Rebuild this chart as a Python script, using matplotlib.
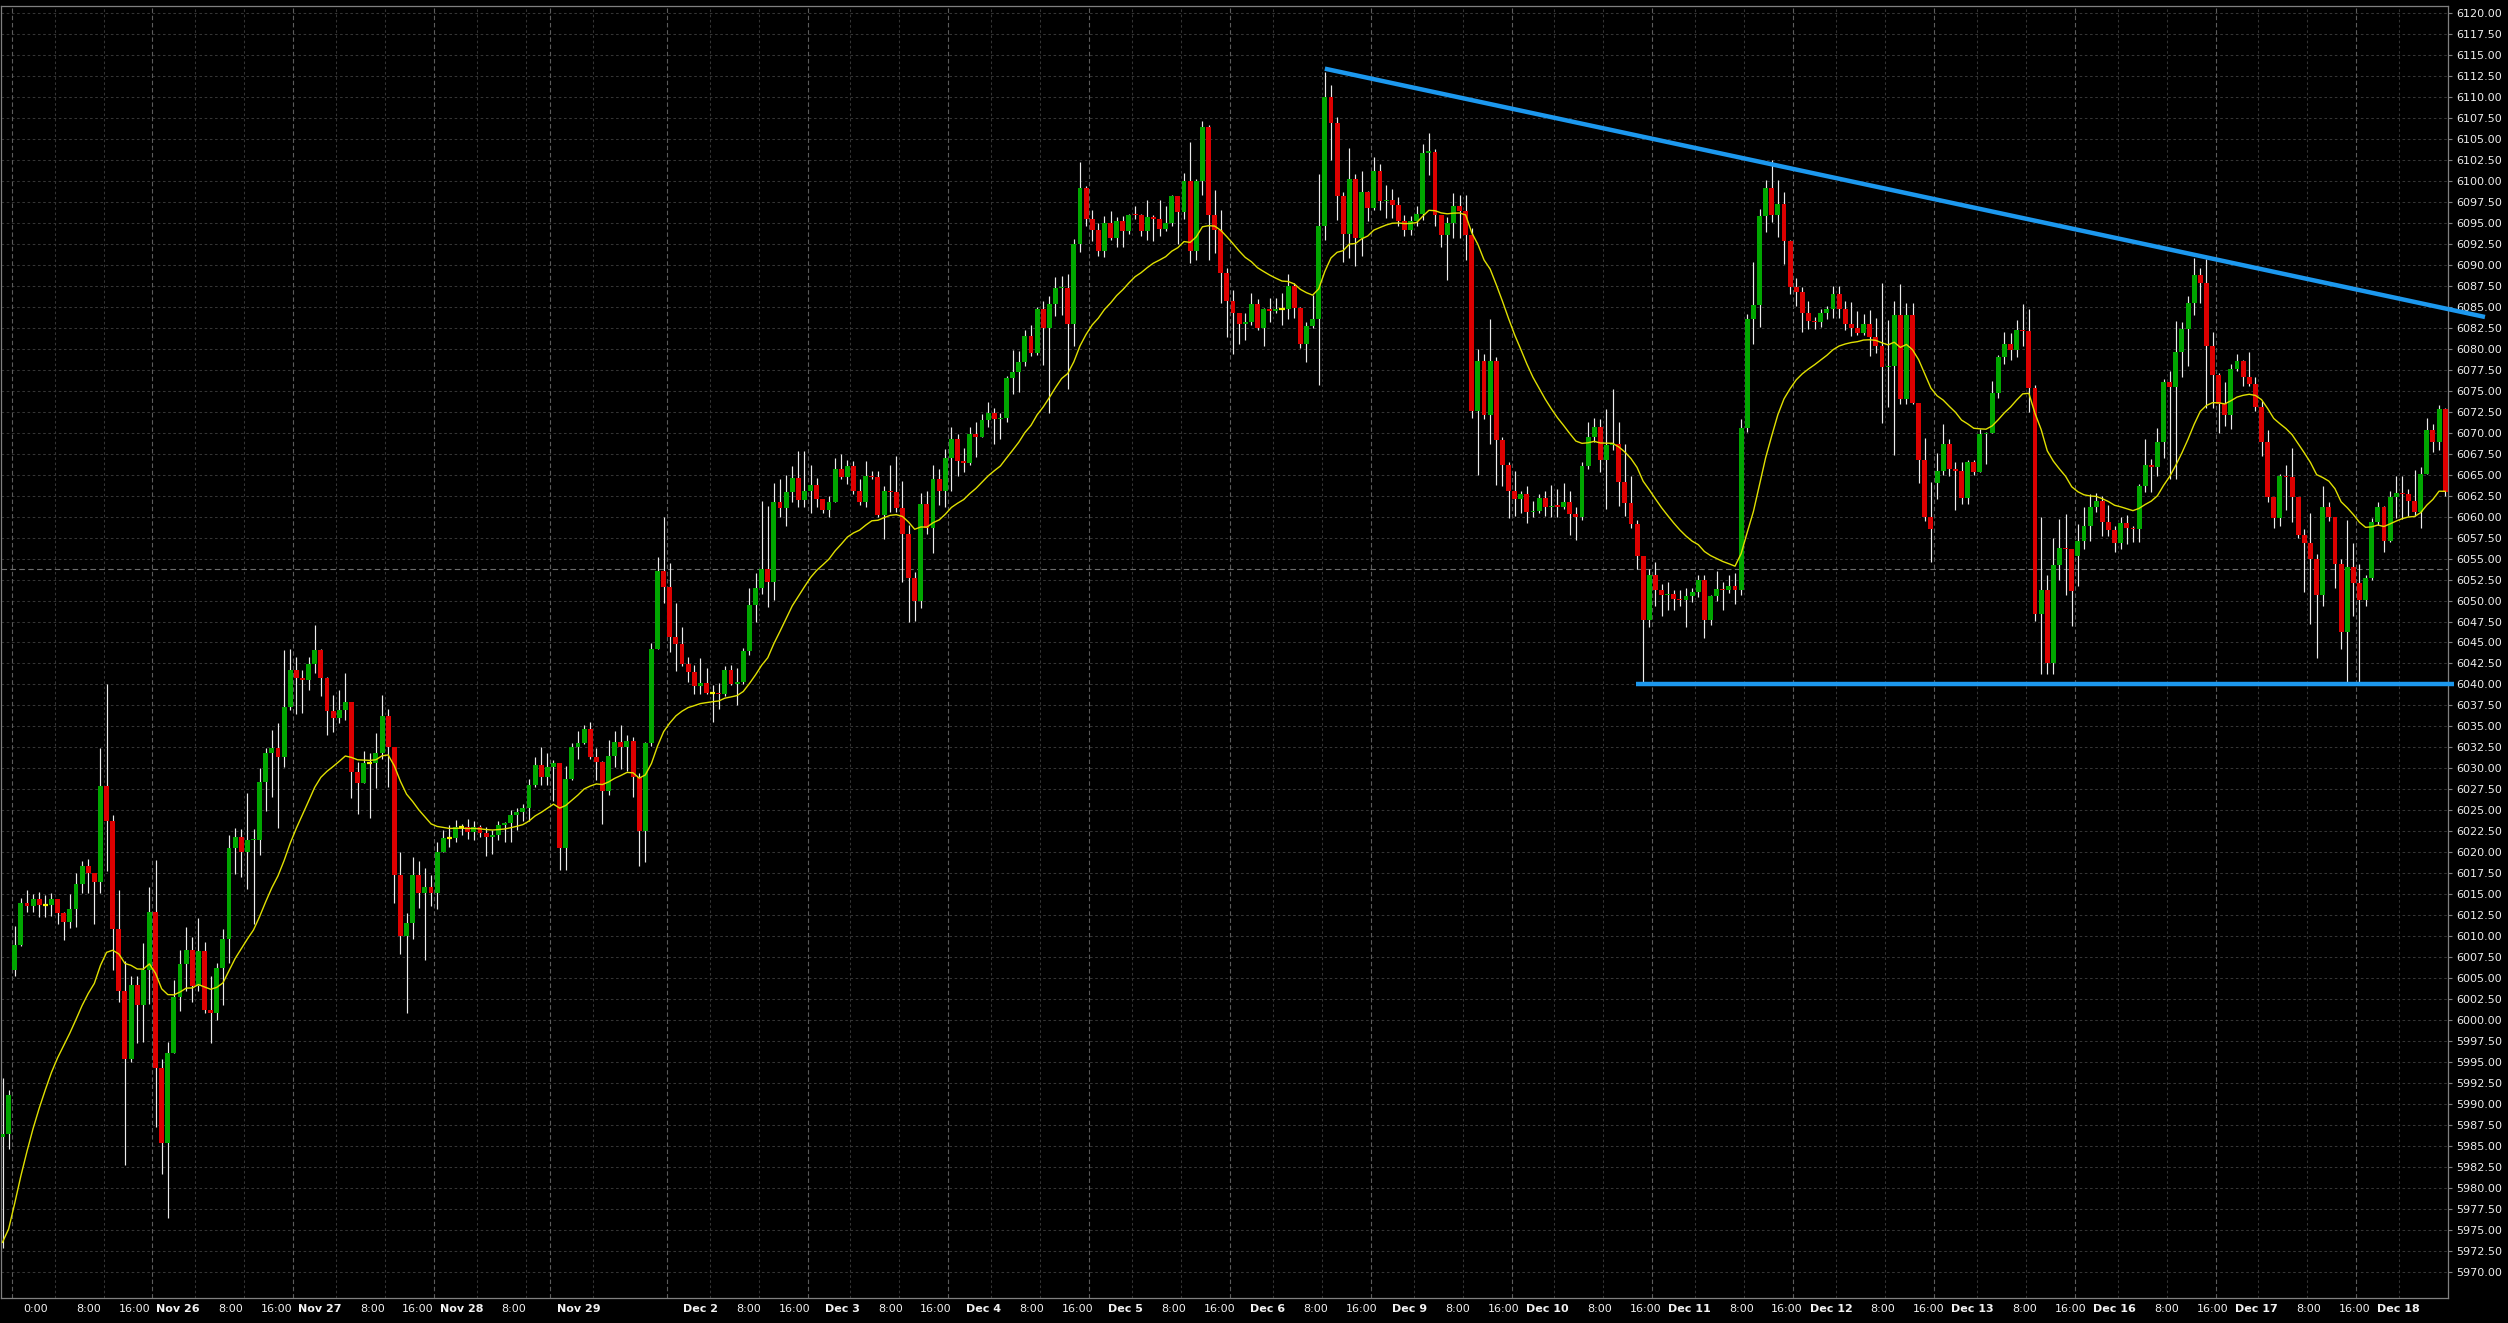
import numpy as np
import matplotlib
matplotlib.use("Agg")
import matplotlib.pyplot as plt
import matplotlib.transforms as mtransforms

# hourly closes (bar 0 = last bars of the previous week)
closes = [
    5986.4, 5991.0, 6008.9, 6013.9, 6013.6, 6014.4, 6013.7, 6013.7, 6014.4, 6012.8,
    6011.7, 6013.2, 6016.2, 6018.4, 6017.5, 6016.4, 6027.9, 6023.7, 6010.8, 6003.5,
    5995.4, 6004.2, 6001.8, 6005.9, 6012.9, 5994.3, 5985.3, 5996.1, 6002.7, 6006.7,
    6008.4, 6004.1, 6008.2, 6001.2, 6000.8, 6006.2, 6009.7, 6020.5, 6021.8, 6020.0,
    6021.4, 6021.5, 6028.4, 6031.8, 6032.4, 6031.3, 6037.3, 6041.7, 6040.8, 6040.5,
    6042.4, 6044.1, 6040.8, 6036.8, 6036.0, 6036.9, 6037.9, 6029.6, 6028.2, 6030.6,
    6030.6, 6031.8, 6036.2, 6032.6, 6017.3, 6010.0, 6011.6, 6017.3, 6015.1, 6015.8,
    6015.1, 6020.0, 6021.7, 6021.7, 6023.0, 6023.0, 6022.4, 6023.0, 6022.3, 6021.8,
    6022.1, 6023.2, 6023.5, 6024.4, 6024.8, 6025.3, 6028.0, 6030.4, 6029.0, 6030.2,
    6030.6, 6020.5, 6028.7, 6032.5, 6033.0, 6034.7, 6031.4, 6030.7, 6027.3, 6031.5,
    6033.1, 6032.5, 6033.2, 6029.0, 6022.5, 6033.0, 6044.2, 6053.5, 6051.6, 6045.6,
    6044.8, 6042.4, 6041.5, 6039.8, 6040.2, 6039.0, 6039.0, 6038.9, 6041.7, 6040.0,
    6040.3, 6044.0, 6049.5, 6051.5, 6053.7, 6052.2, 6061.7, 6061.0, 6062.9, 6064.6,
    6062.0, 6063.0, 6063.8, 6062.1, 6060.8, 6061.8, 6065.7, 6064.7, 6066.0, 6063.0,
    6061.8, 6064.9, 6064.7, 6060.2, 6063.0, 6062.9, 6061.0, 6057.9, 6052.7, 6049.9,
    6061.5, 6058.6, 6064.5, 6063.0, 6067.0, 6069.2, 6066.6, 6066.4, 6069.9, 6069.5,
    6071.5, 6072.4, 6071.6, 6071.7, 6076.5, 6077.2, 6078.4, 6081.5, 6079.5, 6084.7,
    6082.5, 6085.4, 6087.2, 6087.3, 6083.0, 6092.5, 6099.2, 6095.5, 6094.2, 6091.7,
    6095.0, 6093.2, 6095.3, 6094.0, 6096.0, 6095.9, 6094.0, 6095.7, 6095.5, 6094.3,
    6095.0, 6098.2, 6096.3, 6100.0, 6091.7, 6100.0, 6106.5, 6096.0, 6094.2, 6089.0,
    6085.7, 6084.3, 6083.0, 6083.2, 6085.3, 6082.5, 6084.7, 6084.5, 6084.7, 6084.7,
    6087.5, 6084.9, 6080.6, 6082.7, 6083.5, 6094.7, 6110.0, 6106.9, 6098.2, 6093.7,
    6100.3, 6093.2, 6098.7, 6096.8, 6101.2, 6097.6, 6097.7, 6097.1, 6095.3, 6094.2,
    6095.2, 6096.1, 6103.4, 6103.5, 6096.0, 6093.6, 6095.0, 6097.0, 6096.4, 6093.6,
    6072.6, 6078.6, 6072.1, 6078.6, 6069.1, 6066.1, 6063.0, 6062.1, 6062.7, 6060.6,
    6060.7, 6062.2, 6061.1, 6061.3, 6061.2, 6061.7, 6060.3, 6060.0, 6066.0, 6069.5,
    6070.7, 6066.8, 6068.5, 6068.6, 6064.1, 6061.6, 6059.1, 6055.3, 6047.7, 6053.0,
    6051.3, 6050.6, 6050.8, 6050.2, 6050.1, 6050.5, 6051.0, 6052.5, 6047.7, 6050.5,
    6051.4, 6051.2, 6051.7, 6051.2, 6070.6, 6083.6, 6085.2, 6095.8, 6099.2, 6096.0,
    6097.3, 6092.8, 6087.4, 6086.8, 6084.3, 6083.3, 6083.2, 6084.3, 6084.8, 6086.5,
    6084.8, 6083.0, 6082.5, 6081.9, 6083.0, 6081.4, 6080.3, 6077.8, 6078.0, 6084.0,
    6074.0, 6084.0, 6073.5, 6066.8, 6060.0, 6058.5, 6065.4, 6068.7, 6065.7, 6065.4,
    6062.2, 6066.5, 6065.3, 6069.8, 6070.0, 6074.7, 6079.0, 6080.6, 6079.9, 6082.2,
    6082.1, 6075.3, 6048.4, 6051.2, 6042.5, 6054.2, 6056.3, 6056.1, 6051.1, 6057.1,
    6058.9, 6061.1, 6061.9, 6059.4, 6058.4, 6056.9, 6059.3, 6058.6, 6058.5, 6063.7,
    6066.1, 6065.9, 6068.9, 6076.0, 6075.4, 6079.6, 6082.4, 6085.5, 6088.8, 6087.9,
    6080.3, 6076.9, 6073.4, 6072.1, 6077.6, 6078.6, 6076.6, 6075.8, 6073.1, 6068.9,
    6062.4, 6059.8, 6064.8, 6064.7, 6062.4, 6057.8, 6056.8, 6055.0, 6050.6, 6061.2,
    6059.9, 6054.3, 6046.2, 6054.0, 6052.1, 6050.1, 6052.7, 6059.4, 6061.1, 6057.1,
    6062.3, 6062.8, 6062.7, 6061.9, 6060.6, 6065.1, 6070.3, 6068.9, 6072.8, 6062.9,
]

highs = [
    5993.1, 5991.6, 6011.2, 6014.5, 6015.5, 6015.0, 6015.3, 6014.9, 6015.1, 6014.4,
    6012.9, 6015.0, 6017.5, 6018.9, 6019.2, 6017.5, 6032.4, 6040.0, 6024.4, 6015.5,
    6007.0, 6005.2, 6005.2, 6009.2, 6015.9, 6019.1, 5995.3, 5997.4, 6004.8, 6008.4,
    6011.1, 6009.9, 6012.2, 6009.3, 6005.2, 6006.8, 6010.8, 6022.1, 6022.9, 6022.8,
    6027.1, 6022.8, 6030.0, 6032.4, 6034.6, 6035.4, 6044.1, 6044.2, 6043.3, 6041.7,
    6043.3, 6047.1, 6044.2, 6040.9, 6038.7, 6039.3, 6041.4, 6037.9, 6030.7, 6032.1,
    6031.8, 6034.2, 6038.7, 6037.1, 6032.6, 6020.0, 6012.7, 6019.4, 6018.9, 6018.1,
    6017.3, 6021.2, 6022.6, 6023.3, 6023.8, 6023.4, 6023.9, 6023.7, 6023.2, 6023.0,
    6022.6, 6023.7, 6023.6, 6025.0, 6025.3, 6025.7, 6028.7, 6031.3, 6032.5, 6031.8,
    6031.0, 6030.3, 6030.3, 6033.0, 6034.4, 6035.2, 6035.5, 6032.4, 6030.9, 6033.4,
    6034.4, 6035.2, 6034.0, 6033.7, 6029.5, 6033.1, 6044.9, 6055.2, 6059.9, 6054.5,
    6049.7, 6046.9, 6043.3, 6042.3, 6043.2, 6041.9, 6039.9, 6040.2, 6042.2, 6042.3,
    6041.9, 6044.3, 6051.5, 6053.3, 6061.9, 6061.3, 6064.0, 6064.5, 6065.0, 6066.0,
    6067.8, 6067.8, 6066.2, 6064.6, 6062.1, 6062.5, 6067.0, 6067.5, 6066.8, 6066.6,
    6064.5, 6066.6, 6065.4, 6065.4, 6063.7, 6066.1, 6067.2, 6064.3, 6059.0, 6053.4,
    6062.8, 6063.0, 6066.1, 6065.7, 6068.1, 6070.7, 6069.9, 6068.2, 6070.7, 6071.3,
    6072.2, 6073.7, 6072.9, 6072.4, 6076.8, 6079.9, 6079.7, 6082.3, 6082.8, 6085.0,
    6085.7, 6086.3, 6088.6, 6088.7, 6088.9, 6093.1, 6102.3, 6099.4, 6096.6, 6095.0,
    6095.8, 6096.4, 6095.7, 6095.8, 6096.1, 6097.0, 6096.1, 6097.8, 6096.0, 6097.8,
    6097.0, 6098.4, 6098.2, 6101.0, 6104.7, 6100.2, 6107.2, 6106.7, 6098.9, 6096.5,
    6089.6, 6087.0, 6084.3, 6084.3, 6086.7, 6085.9, 6084.9, 6086.1, 6086.1, 6086.7,
    6088.9, 6087.9, 6085.0, 6083.2, 6086.4, 6100.8, 6113.0, 6111.5, 6107.6, 6098.7,
    6103.9, 6100.8, 6101.2, 6098.8, 6102.9, 6102.0, 6099.5, 6099.1, 6098.1, 6096.0,
    6095.8, 6097.0, 6104.4, 6105.7, 6103.8, 6096.0, 6095.7, 6098.6, 6098.4, 6098.4,
    6094.4, 6080.0, 6079.4, 6083.5, 6079.0, 6069.5, 6066.5, 6065.5, 6063.0, 6063.7,
    6061.9, 6062.7, 6063.0, 6063.8, 6063.3, 6064.0, 6063.0, 6061.1, 6066.5, 6071.3,
    6071.8, 6071.6, 6072.8, 6075.2, 6071.3, 6068.6, 6064.8, 6059.6, 6055.2, 6053.7,
    6054.6, 6052.0, 6052.2, 6051.3, 6051.2, 6051.5, 6051.5, 6053.0, 6053.0, 6050.7,
    6053.5, 6052.2, 6053.0, 6053.3, 6071.6, 6084.1, 6090.3, 6096.7, 6100.1, 6102.5,
    6100.1, 6098.7, 6093.0, 6088.4, 6087.4, 6085.7, 6083.8, 6084.8, 6085.1, 6087.5,
    6087.5, 6085.7, 6085.6, 6084.5, 6084.1, 6084.6, 6083.7, 6087.9, 6083.4, 6085.7,
    6087.7, 6085.5, 6085.5, 6073.5, 6069.4, 6064.1, 6067.6, 6071.0, 6069.2, 6066.5,
    6066.5, 6066.8, 6066.8, 6070.4, 6070.1, 6076.2, 6079.3, 6082.0, 6081.9, 6083.4,
    6085.3, 6084.8, 6075.7, 6059.9, 6053.1, 6057.5, 6059.7, 6060.3, 6056.1, 6059.1,
    6061.1, 6062.7, 6062.8, 6062.5, 6061.4, 6058.9, 6059.9, 6060.2, 6058.9, 6063.9,
    6069.2, 6066.9, 6070.6, 6076.4, 6077.4, 6083.3, 6083.2, 6086.3, 6090.8, 6089.6,
    6090.7, 6082.0, 6077.1, 6076.0, 6078.2, 6079.4, 6078.7, 6079.6, 6076.6, 6073.8,
    6070.3, 6062.4, 6065.1, 6066.1, 6068.2, 6062.3, 6058.5, 6060.4, 6055.5, 6063.7,
    6061.8, 6059.9, 6054.9, 6059.6, 6056.9, 6054.3, 6053.0, 6059.8, 6061.8, 6061.3,
    6063.1, 6064.9, 6064.8, 6063.3, 6065.6, 6065.9, 6071.8, 6071.0, 6073.3, 6073.0,
]

lows = [
    5972.8, 5984.6, 6005.2, 6008.8, 6012.9, 6012.9, 6012.3, 6012.3, 6012.4, 6011.5,
    6009.5, 6011.0, 6011.1, 6015.1, 6015.1, 6011.4, 6015.1, 6017.8, 6005.9, 6002.2,
    5982.7, 5995.0, 5997.2, 5997.4, 6001.9, 5987.2, 5981.7, 5976.4, 5996.1, 6001.1,
    6003.4, 6002.2, 6003.5, 6000.8, 5997.2, 6000.0, 6001.8, 6006.8, 6017.4, 6017.0,
    6015.6, 6011.5, 6019.7, 6024.9, 6026.6, 6022.9, 6030.2, 6037.0, 6036.5, 6036.6,
    6039.3, 6041.4, 6038.6, 6034.0, 6034.3, 6035.4, 6035.7, 6026.5, 6024.5, 6028.4,
    6024.1, 6027.7, 6031.1, 6027.8, 6013.9, 6007.9, 6000.8, 6009.6, 6013.3, 6007.2,
    6013.6, 6013.2, 6020.1, 6020.6, 6021.2, 6022.0, 6021.6, 6021.4, 6021.8, 6019.5,
    6019.8, 6021.4, 6021.2, 6021.2, 6022.6, 6023.7, 6023.7, 6027.8, 6028.0, 6028.0,
    6026.1, 6017.9, 6017.9, 6028.6, 6031.1, 6032.9, 6031.1, 6028.6, 6023.4, 6026.8,
    6030.1, 6029.9, 6029.7, 6026.6, 6018.4, 6018.8, 6032.7, 6044.4, 6049.7, 6043.9,
    6041.6, 6042.2, 6040.3, 6038.8, 6038.8, 6038.8, 6035.5, 6037.1, 6038.6, 6039.9,
    6037.5, 6040.1, 6043.5, 6047.4, 6050.8, 6049.2, 6050.1, 6060.0, 6058.9, 6061.8,
    6061.2, 6061.2, 6060.4, 6061.2, 6060.4, 6059.9, 6061.8, 6064.5, 6063.9, 6062.7,
    6061.4, 6061.2, 6064.5, 6060.0, 6057.3, 6060.6, 6060.6, 6052.2, 6047.4, 6047.6,
    6049.1, 6057.9, 6055.7, 6061.4, 6061.2, 6063.1, 6064.9, 6065.3, 6066.2, 6067.1,
    6069.5, 6070.7, 6068.7, 6069.2, 6071.3, 6074.6, 6074.9, 6077.9, 6079.1, 6079.3,
    6078.1, 6072.4, 6083.9, 6084.0, 6075.2, 6080.3, 6091.6, 6094.6, 6092.8, 6091.1,
    6090.9, 6093.0, 6092.2, 6092.2, 6093.7, 6095.5, 6093.5, 6093.0, 6092.9, 6093.5,
    6094.1, 6094.7, 6092.5, 6095.5, 6090.2, 6090.6, 6098.4, 6090.6, 6091.4, 6085.5,
    6081.4, 6079.4, 6080.6, 6081.1, 6082.8, 6082.3, 6080.3, 6083.2, 6084.3, 6082.8,
    6083.6, 6083.7, 6080.1, 6078.4, 6082.5, 6075.7, 6093.0, 6102.5, 6095.4, 6090.4,
    6090.8, 6089.9, 6091.1, 6095.3, 6096.5, 6096.5, 6095.6, 6095.6, 6094.7, 6093.5,
    6093.6, 6094.7, 6095.4, 6100.7, 6094.7, 6092.2, 6088.2, 6093.2, 6093.2, 6090.6,
    6071.7, 6065.0, 6071.6, 6068.7, 6063.8, 6063.7, 6059.8, 6060.1, 6060.4, 6059.2,
    6059.9, 6060.4, 6060.1, 6059.9, 6059.9, 6060.9, 6057.8, 6057.2, 6059.6, 6065.7,
    6068.9, 6065.3, 6060.9, 6067.9, 6061.3, 6060.1, 6058.7, 6053.7, 6040.1, 6046.9,
    6049.3, 6048.2, 6048.9, 6048.9, 6049.3, 6046.9, 6049.8, 6050.4, 6045.5, 6047.1,
    6050.0, 6048.9, 6050.9, 6049.6, 6050.7, 6070.1, 6080.6, 6082.6, 6093.9, 6095.1,
    6093.3, 6090.1, 6086.5, 6085.1, 6082.0, 6082.4, 6082.4, 6082.6, 6083.5, 6083.7,
    6083.7, 6082.3, 6081.5, 6081.7, 6081.7, 6079.2, 6079.5, 6071.2, 6073.1, 6067.4,
    6073.4, 6073.4, 6073.4, 6064.0, 6059.5, 6054.6, 6062.1, 6065.0, 6064.9, 6060.8,
    6061.5, 6061.5, 6065.0, 6065.3, 6066.3, 6070.1, 6074.1, 6078.2, 6078.7, 6079.0,
    6080.4, 6072.5, 6047.6, 6041.2, 6041.2, 6041.2, 6052.4, 6050.7, 6047.0, 6051.7,
    6056.1, 6057.1, 6060.5, 6057.7, 6057.7, 6055.8, 6056.1, 6056.7, 6057.0, 6057.0,
    6062.9, 6062.9, 6064.8, 6067.0, 6064.5, 6064.5, 6076.6, 6078.0, 6084.0, 6085.5,
    6073.0, 6072.9, 6070.0, 6070.8, 6070.5, 6077.4, 6075.6, 6075.6, 6072.6, 6067.2,
    6061.7, 6058.6, 6058.9, 6060.8, 6059.4, 6057.4, 6051.0, 6047.2, 6043.1, 6049.4,
    6059.5, 6051.5, 6044.2, 6040.0, 6048.2, 6040.0, 6049.4, 6052.5, 6059.0, 6055.8,
    6057.0, 6059.8, 6059.7, 6060.1, 6060.1, 6058.6, 6065.3, 6067.7, 6068.0, 6062.5,
]

# bars open at the previous close, except at these session gaps
first_open = 5986.0
gap_opens = {2: 6005.9, 316: 6064.0, 339: 6055.3}

# time axis: 2 bars before the first day, then sessions of 1:00..23:00
pre_bars = 2
day_names = ["0:00", "Nov 26", "Nov 27", "Nov 28", "Nov 29", "Dec 2", "Dec 3", "Dec 4",
             "Dec 5", "Dec 6", "Dec 9", "Dec 10", "Dec 11", "Dec 12", "Dec 13",
             "Dec 16", "Dec 17", "Dec 18"]
day_bars = [23, 23, 23, 19, 19, 23, 23, 23, 23, 23, 23, 23, 23, 23, 23, 23, 23, 15]
hour_marks = [8, 16]
hidden_hour_labels = [("Nov 28", 16), ("Nov 29", 8)]
missing_hour_lines = [("Nov 29", 16)]

ma_period = 21
ma_seed = 5973.5

# drawn trend lines (bar index, price)
upper_line_bars = [216, 405.5]
upper_line_prices = [6113.4, 6083.8]
lower_line_bars = [266.8, 400.4]
lower_line_prices = [6040.0, 6040.0]
crosshair_price = 6053.7

price_min, price_max, price_step = 5970.0, 6120.0, 2.5

# ---------------------------------------------------------------------------
closes = np.array(closes)
highs = np.array(highs)
lows = np.array(lows)
n = len(closes)
x = np.arange(n)

opens = np.r_[first_open, closes[:-1]]
for k, v in gap_opens.items():
    opens[k] = v
highs = np.maximum(highs, np.maximum(opens, closes))
lows = np.minimum(lows, np.minimum(opens, closes))

alpha = 2.0 / (ma_period + 1)
ma = np.empty(n)
ma[0] = ma_seed
for i in range(1, n):
    ma[i] = ma[i - 1] + alpha * (closes[i] - ma[i - 1])

W, H = 2508, 1323
fig = plt.figure(figsize=(W / 100, H / 100), dpi=100, facecolor="black")
ax_left, ax_right, ax_top, ax_bottom = 1, 2448, 6, 1298
ax = fig.add_axes([ax_left / W, (H - ax_bottom) / H,
                   (ax_right - ax_left) / W, (ax_bottom - ax_top) / H],
                  facecolor="black")

px_per_bar = 6.122
bar0_px = 2.5
ax.set_xlim((ax_left - bar0_px) / px_per_bar, (ax_right - bar0_px) / px_per_bar)
ax.set_ylim(5966.86, 6120.87)


def bar_to_px(b):
    return bar0_px + px_per_bar * b


def px_to_bar(p):
    return (p - bar0_px) / px_per_bar


def label_right(grid_bar):
    # the time scale labels sit a little right of their grid line, drifting slowly
    return px_to_bar(45.9 + 1.00735 * bar_to_px(grid_bar))


grid_col = "#343434"
sep_col = "#5c5c5c"
txt_col = "#f2f2f2"

# horizontal grid
levels = np.arange(price_min, price_max + 0.01, price_step)
for lv in levels:
    ax.axhline(lv, color=grid_col, lw=0.75, ls=(0, (2.5, 2.5)), zorder=1)

# vertical grid, separators and time labels
label_tf = mtransforms.blended_transform_factory(ax.transData, ax.transAxes)
label_y = -11 / (ax_bottom - ax_top)
x_end = ax.get_xlim()[1]
first = pre_bars
for d, (name, nb) in enumerate(zip(day_names, day_bars)):
    sep = first - 0.5
    ax.axvline(sep, color=sep_col, lw=0.8, ls=(0, (4, 2.5)), zorder=1)
    rx = label_right(sep)
    if d == 0:
        rx -= 10 / px_per_bar
    ax.text(rx, label_y, name, transform=label_tf, ha="right", va="center",
            fontsize=8, color=txt_col,
            fontweight="bold" if name[0].isalpha() else "normal", clip_on=False)
    for hr in hour_marks:
        pos = first + (hr - 1) - 0.5
        if (name, hr) in missing_hour_lines or pos >= first + nb - 0.5 or pos >= x_end - 0.1:
            continue
        ax.axvline(pos, color=grid_col, lw=0.75, ls=(0, (2.5, 2.5)), zorder=1)
        rx = label_right(pos)
        if (name, hr) in hidden_hour_labels or rx > x_end:
            continue
        ax.text(rx, label_y, f"{hr}:00", transform=label_tf, ha="right", va="center",
                fontsize=8, color=txt_col, clip_on=False)
    first += nb

ax.axhline(crosshair_price, color="#6e6e6e", lw=0.8, ls=(0, (5, 3)), zorder=1.5)

# candles
up = closes > opens + 0.01
down = closes < opens - 0.01
doji = ~(up | down)
body = np.maximum(np.abs(closes - opens), 0.13)
ax.vlines(x, lows, highs, color="#ececec", lw=0.85, zorder=3)
ax.bar(x[up], body[up], bottom=opens[up], width=0.8, color="#00a600", lw=0, zorder=4)
ax.bar(x[down], body[down], bottom=closes[down], width=0.8, color="#dd0000", lw=0, zorder=4)
ax.hlines(closes[doji], x[doji] - 0.42, x[doji] + 0.42, color="#f5f500", lw=1.6, zorder=4)

ax.plot(x, ma, color="#e0e000", lw=1.0, zorder=5)

ax.plot(upper_line_bars, upper_line_prices, color="#1c98ee", lw=3.2,
        solid_capstyle="butt", zorder=6, clip_on=False)
ax.plot(lower_line_bars, lower_line_prices, color="#1c98ee", lw=3.2,
        solid_capstyle="butt", zorder=6, clip_on=False)

# axes and price scale
for s in ax.spines.values():
    s.set_color("#808080")
    s.set_linewidth(0.9)
ax.set_xticks([])
ax.yaxis.tick_right()
ax.set_yticks(levels)
ax.set_yticklabels([f"{v:.2f}" for v in levels])
ax.tick_params(axis="y", which="both", colors="#808080", labelcolor="#eeeeee",
               labelsize=8, length=3, width=0.8, pad=3, direction="out")

fig.savefig("out.png", dpi=100, facecolor="black")
